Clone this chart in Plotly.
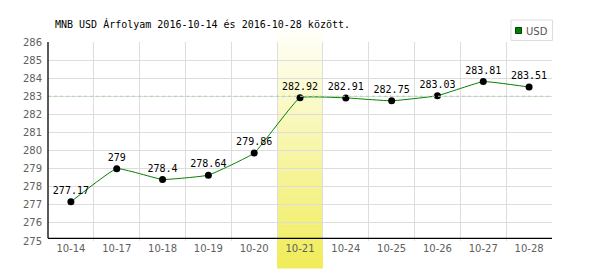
import plotly.graph_objects as go

dates = ["10-14", "10-17", "10-18", "10-19", "10-20", "10-21",
         "10-24", "10-25", "10-26", "10-27", "10-28"]
usd = [277.17, 279, 278.4, 278.64, 279.86, 282.92,
       282.91, 282.75, 283.03, 283.81, 283.51]
avg_line = 283
highlight = "10-21"
title = "MNB USD Árfolyam 2016-10-14 és 2016-10-28 között."
series_name = "USD"

W, H = 600, 270
ML, MR, MT, MB = 48, 48, 42, 29
plot_h = H - MT - MB
y_min, y_max = 275, 286

def py(pix):
    # pixel row -> paper y
    return (H - MB - pix) / plot_h

def px(pix):
    return (pix - ML) / (W - ML - MR)

fig = go.Figure()

# highlight band gradient (stacked thin rects)
hi = dates.index(highlight)
top_pix, bot_pix = 29, 268
n = 60
c0 = (255, 255, 250)
c1 = (240, 236, 88)
for k in range(n):
    t = (k + 0.5) / n
    col = tuple(round(c0[j] + (c1[j] - c0[j]) * t) for j in range(3))
    y0p = top_pix + (bot_pix - top_pix) * k / n
    y1p = top_pix + (bot_pix - top_pix) * (k + 1) / n + 0.5
    fig.add_shape(type="rect", xref="x", yref="paper",
                  x0=hi - 0.5, x1=hi + 0.5, y0=py(y1p), y1=py(y0p),
                  line=dict(width=0), fillcolor="rgb(%d,%d,%d)" % col,
                  layer="below")

# average dashed line
fig.add_shape(type="line", xref="paper", yref="y", x0=0, x1=1,
              y0=avg_line, y1=avg_line,
              line=dict(color="#a8d4a8", width=1.2, dash="3px,3px"), layer="above")

# axis lines (black)
fig.add_shape(type="line", xref="paper", yref="paper", x0=0, x1=1,
              y0=py(238.3), y1=py(238.3), line=dict(color="black", width=1.3))
fig.add_shape(type="line", xref="paper", yref="paper", x0=0, x1=0,
              y0=py(238.3), y1=1, line=dict(color="black", width=1.3))

fig.add_trace(go.Scatter(
    x=dates, y=usd, mode="lines+markers+text",
    line=dict(color="#008000", width=1, shape="spline", smoothing=0.3),
    marker=dict(color="black", size=7),
    text=[f"{v:g}" for v in usd], textposition="top center",
    textfont=dict(family="DejaVu Sans Mono", size=10, color="black"),
    cliponaxis=False, showlegend=False, name=series_name))

# legend box
fig.add_shape(type="rect", xref="paper", yref="paper",
              x0=px(511), x1=px(552.5), y0=py(40.5), y1=py(20),
              line=dict(color="#dddddd", width=1), fillcolor="white")
fig.add_shape(type="rect", xref="paper", yref="paper",
              x0=px(515.5), x1=px(521.5), y0=py(33.5), y1=py(27.5),
              line=dict(color="#004000", width=1), fillcolor="#008000")
fig.add_annotation(text=series_name, xref="paper", yref="paper",
                   x=px(524), y=py(31), xanchor="left", yanchor="middle",
                   showarrow=False,
                   font=dict(family="DejaVu Sans", size=10, color="#555555"))

# title
fig.add_annotation(text=title, xref="paper", yref="paper",
                   x=px(53), y=py(24), xanchor="left", yanchor="middle",
                   showarrow=False,
                   font=dict(family="DejaVu Sans Mono", size=10, color="black"))

fig.update_layout(
    width=W, height=H, margin=dict(l=ML, r=MR, t=MT, b=MB),
    paper_bgcolor="white", plot_bgcolor="rgba(0,0,0,0)",
    showlegend=False,
    xaxis=dict(type="category", categoryorder="array", categoryarray=dates,
               range=[-0.5, len(dates) - 0.5], tickson="boundaries",
               showgrid=True, gridcolor="#dddddd", gridwidth=1,
               ticks="", showline=False, zeroline=False,
               tickfont=dict(family="DejaVu Sans", size=10, color="#606060")),
    yaxis=dict(range=[y_min, y_max], dtick=1, showgrid=True,
               gridcolor="#dddddd", gridwidth=1, ticks="", showline=False,
               zeroline=False, ticklabelstandoff=5,
               tickfont=dict(family="DejaVu Sans", size=10, color="#606060")),
)

fig.write_html("out.html")
